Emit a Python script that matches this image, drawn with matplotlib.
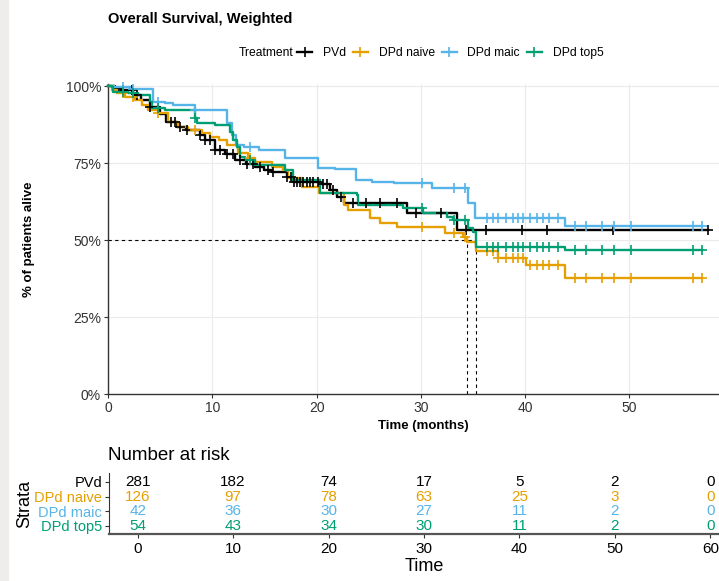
import numpy as np
import matplotlib
matplotlib.use("Agg")
import matplotlib.pyplot as plt
from matplotlib.lines import Line2D
from matplotlib.patches import Rectangle

plt.rcParams['font.family'] = ['Liberation Sans', 'DejaVu Sans']

# Kaplan-Meier step curves (months, % alive after each step)
pvd_t = [0, 0.7, 1.2, 2.4, 3.2, 4.0, 5.0, 5.6, 6.6, 7.5, 8.8, 9.3, 10.3, 11.2, 12.2, 13.2,
         14.1, 15.0, 15.7, 17.2, 17.7, 20.3, 21.3, 22.0, 22.6, 28.7, 33.5]
pvd_s = [100, 99.4, 98.7, 97.1, 95.5, 93.2, 91.0, 88.3, 86.7, 85.7, 84.1, 82.5, 79.2, 78.0, 76.0, 74.7,
         73.7, 72.7, 72.1, 70.5, 68.8, 68.2, 66.2, 64.0, 62.0, 58.8, 53.2]
naive_t = [0, 0.4, 0.9, 1.6, 2.6, 3.3, 3.8, 4.8, 5.8, 6.7, 7.7, 9.0, 9.8, 10.6, 11.4, 12.5, 13.4,
           14.1, 15.7, 16.8, 17.3, 18.6, 20.2, 22.6, 23.0, 25.1, 26.1, 27.7, 32.3, 34.0, 34.4,
           35.3, 37.4, 40.1, 43.8]
naive_s = [100, 98.7, 97.7, 96.4, 95.5, 93.8, 92.2, 91.2, 88.3, 86.7, 85.7, 84.7, 83.4, 82.5, 80.8, 78.2, 76.6,
           75.3, 73.7, 72.7, 70.1, 67.2, 65.3, 61.4, 59.7, 57.1, 55.5, 54.2, 52.3, 51.0, 49.4,
           46.4, 44.2, 41.9, 37.7]
maic_t = [0, 0.6, 2.3, 4.3, 5.5, 6.2, 8.3, 11.4, 11.9, 12.3, 13.0, 14.5, 17.0, 20.1, 21.8, 23.8,
          25.3, 27.4, 31.1, 34.5, 35.2, 43.8]
maic_s = [100, 99.7, 99.0, 94.8, 94.5, 93.8, 92.2, 88.0, 84.0, 81.0, 80.2, 79.2, 76.6, 73.4, 73.0, 69.5,
          68.8, 68.5, 66.9, 62.0, 57.3, 54.5]
top5_t = [0, 0.4, 0.5, 1.9, 2.9, 4.0, 4.2, 5.5, 8.3, 8.5, 10.3, 11.7, 12.0, 12.4, 12.7, 13.1, 14.1,
          17.0, 17.7, 20.3, 23.9, 24.0, 28.3, 30.2, 32.5, 33.1, 34.5, 35.0, 35.3, 43.8]
top5_s = [100, 99.7, 98.1, 97.7, 97.1, 94.8, 92.9, 92.2, 89.6, 88.0, 87.3, 85.1, 82.5, 80.2, 76.9, 76.0, 74.4,
          72.7, 69.5, 65.3, 64.6, 61.4, 60.4, 58.8, 57.5, 56.5, 53.9, 52.6, 47.7, 46.6]

# censoring times (months)
pvd_cens = [1.4, 2.3, 2.8, 4.0, 6.0, 6.4, 6.9, 7.6, 8.8, 9.3, 9.8, 10.3, 10.7, 11.4, 12.0, 12.7,
            13.3, 13.9, 14.6, 15.3, 15.8, 17.2, 17.5, 17.8, 18.1, 18.4, 18.7, 19.1, 19.4, 19.7,
            20.1, 20.6, 21.0, 21.6, 22.3, 23.5, 24.7, 26.1, 27.7, 29.5, 31.9, 34.3, 36.2, 39.7,
            42.1, 48.4, 57.5]
dpd_cens = [1.4, 2.4, 4.8, 8.3, 13.6, 30.1, 33.2, 34.2, 36.3, 36.9, 37.4, 38.2, 38.8, 39.3, 39.8,
            40.5, 41.1, 41.7, 42.3, 43.1, 44.8, 45.8, 47.4, 48.5, 50.1, 56.1, 57.0]

strata = ["PVd", "DPd naive", "DPd maic", "DPd top5"]
colors = ["black", "#E69F00", "#56B4E9", "#009E73"]

# number at risk table
risk_times = [0, 10, 20, 30, 40, 50, 60]
pvd_risk = [281, 182, 74, 17, 5, 2, 0]
naive_risk = [126, 97, 78, 63, 25, 3, 0]
maic_risk = [42, 36, 30, 27, 11, 2, 0]
top5_risk = [54, 43, 34, 30, 11, 2, 0]

W, H = 719, 581
fig = plt.figure(figsize=(W / 100, H / 100), dpi=100)
fig.patches.append(Rectangle((0, 0), 8 / W, 1, transform=fig.transFigure,
                             color="#eeedeb", zorder=0))

ax = fig.add_axes([108 / W, (H - 394) / H, 631 / W, 310 / H])
ax.set_xlim(0, 60.5)
ax.set_ylim(0, 100.65)

curves = [(pvd_t, pvd_s, pvd_cens), (naive_t, naive_s, dpd_cens),
          (maic_t, maic_s, dpd_cens), (top5_t, top5_s, dpd_cens)]
medians = []
for (t, s, cens), col in zip(curves, colors):
    t = np.array(t)
    s = np.array(s)
    cens = np.array(cens)
    tt = np.append(t, cens.max())
    ss = np.append(s, s[-1])
    ax.step(tt, ss, where="post", color=col, lw=1.7, zorder=3, clip_on=False)
    idx = np.searchsorted(t, cens, side="right") - 1
    ax.plot(cens, s[idx], linestyle="none", marker="+", markersize=7, mew=1.2,
            color=col, zorder=4, clip_on=False)
    below = np.where(s <= 50)[0]
    if len(below):
        medians.append(t[below[0]])

# median survival lines
ax.plot([0, max(medians)], [50, 50], color="black", lw=0.8, ls=(0, (3, 3)), zorder=2)
for m in medians:
    ax.plot([m, m], [0, 50], color="black", lw=0.8, ls=(0, (3, 3)), zorder=2)

ax.set_xticks(range(0, 51, 10))
ax.set_xticks([60], minor=True)
ax.tick_params(which="minor", length=0)
ax.set_yticks([0, 25, 50, 75, 100])
ax.set_yticklabels(["0%", "25%", "50%", "75%", "100%"])
ax.grid(color="#ebebeb", lw=0.8)
ax.set_axisbelow(True)
for sp in ["top", "right"]:
    ax.spines[sp].set_visible(False)
for sp in ["left", "bottom"]:
    ax.spines[sp].set_color("#333333")
    ax.spines[sp].set_linewidth(1.0)
ax.tick_params(length=3, color="#333333", labelcolor="#333333", labelsize=10, pad=2)
ax.set_xlabel("Time (months)", fontsize=9.5, fontweight="bold", labelpad=4)
ax.set_ylabel("% of patients alive", fontsize=9.5, fontweight="bold", labelpad=22)

fig.text(108 / W, 1 - 19 / H, "Overall Survival, Weighted", fontsize=10.5,
         fontweight="bold", va="center", ha="left")

# legend
fig.text(239 / W, 1 - 53 / H, "Treatment", fontsize=8.7, va="center", ha="left")
handles = [Line2D([], [], color=c, lw=1.7, marker="+", markersize=7, mew=1.2) for c in colors]
fig.legend(handles, strata, loc="center left", bbox_to_anchor=(297 / W, 1 - 53 / H),
           ncol=4, frameon=False, fontsize=8.7, handlelength=1.25, handletextpad=0.9,
           columnspacing=0.55, borderpad=0, borderaxespad=0)

# risk table
rax = fig.add_axes([109 / W, (H - 534) / H, 630 / W, 61 / H])
rax.set_xlim(-3, 63)
rax.set_ylim(0.45, 4.6)
risks = [pvd_risk, naive_risk, maic_risk, top5_risk]
for i, (vals, col) in enumerate(zip(risks, colors)):
    y = 4 - i
    for t, v in zip(risk_times, vals):
        rax.text(t, y, str(v), ha="center", va="center", color=col, fontsize=11)
rax.set_yticks([4, 3, 2, 1])
rax.set_yticklabels(strata)
for lab, col in zip(rax.get_yticklabels(), colors):
    lab.set_color(col)
rax.set_xticks(risk_times)
rax.tick_params(axis="y", labelsize=10.5, length=3, color="#333333", pad=2)
rax.tick_params(axis="x", labelsize=11, length=3, color="#333333", pad=3)
for sp in ["top", "right"]:
    rax.spines[sp].set_visible(False)
rax.spines["left"].set_color("#333333")
rax.spines["bottom"].set_color("#555555")
rax.spines["bottom"].set_linewidth(1.6)
rax.set_xlabel("Time", fontsize=13, labelpad=1)
rax.set_ylabel("Strata", fontsize=13, labelpad=1)
fig.text(108 / W, 1 - 455 / H, "Number at risk", fontsize=13.5, va="center", ha="left")

fig.savefig("out.png", dpi=100)
